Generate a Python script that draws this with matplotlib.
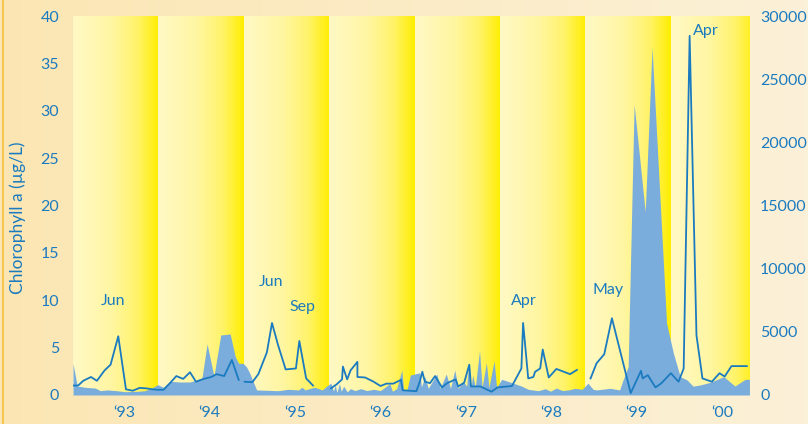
import numpy as np
import matplotlib
matplotlib.use("Agg")
import matplotlib.pyplot as plt
from matplotlib.colors import LinearSegmentedColormap
from matplotlib.lines import Line2D

plt.rcParams['font.family'] = ['Lato', 'DejaVu Sans']

# chlorophyll a (ug/L), left axis; NaN marks breaks in sampling
chl_t = [1993.01, 1993.06, 1993.12, 1993.21, 1993.28, 1993.37, 1993.44, 1993.53, 1993.62, 1993.70,
         1993.78, 1993.86, 1993.93, 1993.99, 1994.06, 1994.14, 1994.21, 1994.29, 1994.37, 1994.44,
         1994.53, 1994.62, 1994.68, 1994.77, 1994.86, 1994.94, 1994.97,
         1995.01, 1995.10, 1995.17, 1995.27, 1995.33, 1995.40, 1995.49, 1995.61, 1995.65, 1995.73,
         1995.81, 1995.90,
         1996.02, 1996.09, 1996.15, 1996.16, 1996.21, 1996.25, 1996.33, 1996.33, 1996.42, 1996.52,
         1996.60, 1996.67, 1996.75, 1996.84, 1996.86, 1997.02, 1997.06, 1997.09, 1997.12, 1997.18,
         1997.24, 1997.32, 1997.38, 1997.48, 1997.51, 1997.58, 1997.64, 1997.66, 1997.77, 1997.90,
         1997.97, 1998.14, 1998.25, 1998.27, 1998.33, 1998.39, 1998.41, 1998.47, 1998.50, 1998.57,
         1998.66, 1998.82, 1998.90, 1998.98,
         1999.06, 1999.13, 1999.22, 1999.31, 1999.53, 1999.65, 1999.67, 1999.73, 1999.82, 1999.89,
         2000.00, 2000.09, 2000.15, 2000.22, 2000.30, 2000.37, 2000.48, 2000.57, 2000.63, 2000.71,
         2000.89]
chl_v = [1.0, 1.0, 1.5, 1.9, 1.5, 2.6, 3.2, 6.2, 0.6, 0.45,
         0.75, 0.7, 0.6, 0.55, 0.55, 1.3, 2.0, 1.7, 2.4, 1.4,
         1.7, 1.9, 2.2, 2.0, 3.7, 1.6, np.nan,
         1.4, 1.35, 2.2, 4.5, 7.6, 5.3, 2.7, 2.8, 5.7, 1.75,
         1.0, np.nan,
         0.7, 1.15, 1.65, 3.0, 1.65, 2.6, 3.5, 1.9, 1.85, 1.4,
         0.95, 1.2, 1.2, 1.6, 0.5, 0.4, 1.4, 2.45, 1.4, 1.25,
         2.0, 0.8, 1.25, 1.65, 0.9, 1.3, 3.2, 0.9, 0.9, 0.35,
         0.8, 0.95, 2.8, 7.6, 1.75, 1.9, 2.45, 2.8, 4.8, 1.85,
         2.75, 2.2, 2.65, np.nan,
         1.75, 3.35, 4.3, 8.1, 0.2, 2.55, 1.75, 2.1, 0.8, 1.25,
         2.3, 1.4, 2.8, 37.9, 6.3, 1.75, 1.4, 2.3, 1.95, 3.05,
         3.05]

# cell density, right axis
cell_t = [1993.00, 1993.05, 1993.14, 1993.26, 1993.32, 1993.40, 1993.51, 1993.61, 1993.75, 1993.84,
          1993.92, 1993.99, 1994.06, 1994.14, 1994.25, 1994.37, 1994.45, 1994.51, 1994.57, 1994.65,
          1994.73, 1994.84, 1994.90, 1994.94, 1994.99, 1995.03, 1995.07, 1995.15, 1995.40, 1995.52,
          1995.64, 1995.68, 1995.72, 1995.78, 1995.83, 1995.92, 1995.97, 1996.02, 1996.05, 1996.07,
          1996.09, 1996.12, 1996.14, 1996.17, 1996.21, 1996.25, 1996.30, 1996.37, 1996.44, 1996.52,
          1996.60, 1996.65, 1996.71, 1996.74, 1996.79, 1996.85, 1996.87, 1996.91, 1996.95, 1997.06,
          1997.08, 1997.12, 1997.16, 1997.26, 1997.30, 1997.37, 1997.42, 1997.47, 1997.51, 1997.57,
          1997.61, 1997.63, 1997.66, 1997.68, 1997.71, 1997.76, 1997.79, 1997.84, 1997.87, 1997.93,
          1997.96, 1998.02, 1998.14, 1998.25, 1998.33, 1998.45, 1998.53, 1998.59, 1998.66, 1998.73,
          1998.80, 1998.88, 1998.96, 1999.03, 1999.09, 1999.13, 1999.29, 1999.40, 1999.44, 1999.50,
          1999.57, 1999.70, 1999.78, 1999.95, 2000.03, 2000.11, 2000.19, 2000.26, 2000.34, 2000.46,
          2000.62, 2000.75, 2000.87, 2000.92]
cell_v = [2500, 710, 610, 550, 340, 400, 340, 260, 290, 340,
          530, 820, 610, 1080, 1030, 1030, 1190, 1350, 4040, 1500,
          4750, 4830, 3030, 2510, 2510, 2240, 1720, 400, 340, 450,
          400, 610, 400, 530, 610, 400, 710, 930, 300, 800,
          200, 900, 300, 700, 250, 500, 350, 500, 350, 450,
          350, 600, 900, 300, 500, 1980, 400, 400, 1580, 1760,
          650, 1450, 530, 1660, 530, 1660, 530, 1980, 530, 1050,
          700, 2370, 600, 1580, 600, 3500, 600, 2550, 600, 2700,
          600, 1240, 970, 710, 450, 340, 500, 300, 550, 350,
          400, 530, 450, 930, 450, 400, 530, 400, 1190, 2240,
          23000, 14500, 27500, 5680, 3300, 1450, 1190, 700, 790, 1000,
          1450, 710, 1240, 1240]

years = [1993, 1994, 1995, 1996, 1997, 1998, 1999, 2000]
year_labels = ['\u201893', '\u201894', '\u201895', '\u201896', '\u201897', '\u201898', '\u201899', '\u201800']

notes = ['Jun', 'Jun', 'Sep', 'Apr', 'May', 'Apr']
note_t = [1993.47, 1995.32, 1995.69, 1998.28, 1999.26, 2000.41]
note_v = [9.9, 11.9, 9.3, 9.9, 11.1, 38.4]

blue = '#1b7bc0'
fill_blue = '#7aaddb'
x_end = 2000.915

fig = plt.figure(figsize=(8.08, 4.24), dpi=100)

# page background, warm on the left fading lighter to the right
bg = fig.add_axes([0, 0, 1, 1], zorder=-10)
bg_cmap = LinearSegmentedColormap.from_list('bg', ['#fce6b3', '#fbf1d8'])
bg.imshow(np.linspace(0, 1, 256).reshape(1, -1), cmap=bg_cmap, aspect='auto', extent=[0, 1, 0, 1])
bg.set_axis_off()
fig.add_artist(Line2D([0.0035, 0.0035], [0, 1], color='#f5bf3c', lw=1.2))

ax = fig.add_axes([73 / 808, 29 / 424, 676 / 808, 379 / 424])
ax.patch.set_alpha(0)

# one gradient panel per year
band_cmap = LinearSegmentedColormap.from_list(
    'band', [(0, '#fff9c6'), (0.45, '#fff6a2'), (0.75, '#fff36a'), (1, '#ffee00')])
grad = np.linspace(0, 1, 256).reshape(1, -1)
for y in years:
    right = min(y + 1, x_end)
    ax.imshow(grad[:, :int(256 * (right - y))], cmap=band_cmap, vmin=0, vmax=1,
              aspect='auto', extent=[y, right, 0, 30000], zorder=0)

ax.fill_between(cell_t, 0, cell_v, color=fill_blue, lw=0, zorder=1)
ax.set_xlim(1993, x_end)
ax.set_ylim(0, 30000)
ax.set_yticks(range(0, 30001, 5000))
ax.set_xticks([y + 0.6 for y in years])
ax.set_xticklabels(year_labels)

ax2 = ax.twinx()
ax2.plot(chl_t, chl_v, color=blue, lw=1.3, zorder=3)
ax2.set_ylim(0, 40)
ax2.set_yticks(range(0, 41, 5))
for t, v, s in zip(note_t, note_v, notes):
    ax2.text(t, v, s, color=blue, fontsize=11.5, ha='center', va='center')

# cells on the right, chlorophyll on the left
ax.yaxis.tick_right()
ax2.yaxis.tick_left()

for a in (ax, ax2):
    for sp in a.spines.values():
        sp.set_visible(False)
    a.tick_params(length=0, colors=blue, labelsize=11.5)
ax.tick_params(axis='x', pad=8)
ax.tick_params(axis='y', pad=8)
ax2.tick_params(axis='y', pad=10)

fig.text(18 / 808, 1 - 218 / 424, 'Chlorophyll a (\u00b5g/L)', rotation=90,
         color=blue, fontsize=12.5, ha='center', va='center')

fig.savefig('out.png', dpi=100)
